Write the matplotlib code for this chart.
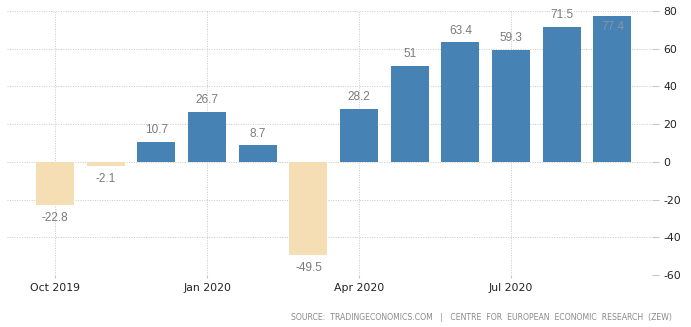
import numpy as np
import matplotlib.pyplot as plt

plt.rcParams["axes.unicode_minus"] = False

months = ["Oct 2019", "Nov 2019", "Dec 2019", "Jan 2020", "Feb 2020", "Mar 2020",
          "Apr 2020", "May 2020", "Jun 2020", "Jul 2020", "Aug 2020", "Sep 2020"]
values = [-22.8, -2.1, 10.7, 26.7, 8.7, -49.5, 28.2, 51, 63.4, 59.3, 71.5, 77.4]
tick_months = ["Oct 2019", "Jan 2020", "Apr 2020", "Jul 2020"]
yticks = [-60, -40, -20, 0, 20, 40, 60, 80]
source = "SOURCE:  TRADINGECONOMICS.COM   |   CENTRE  FOR  EUROPEAN  ECONOMIC  RESEARCH  (ZEW)"

pos_color = "#4682b4"
neg_color = "#f5deb3"
grid_color = "#c8c8c8"
label_color = "#7b7b7b"
inner_color = "#8495a6"

fig = plt.figure(figsize=(6.91, 3.27), dpi=100)
ax = fig.add_axes([7 / 691, 1 - 275 / 327, 645 / 691, 264 / 327])

x = np.arange(len(months))
colors = [pos_color if v >= 0 else neg_color for v in values]
ax.bar(x, values, width=0.75, color=colors, zorder=2)

ymin, ymax = -60, 80
ax.set_ylim(ymin, ymax)
ax.set_xlim(-0.95, 11.78)

for xi, v in zip(x, values):
    label = f"{v:g}"
    if v >= 0:
        if v > ymax - 8:
            # no room above the bar: write the value inside, near the top
            ax.annotate(label, (xi, v), xytext=(0, -4), textcoords="offset points",
                        ha="center", va="top", fontsize=8.5, color=inner_color,
                        family="Liberation Sans", zorder=3)
        else:
            ax.annotate(label, (xi, v), xytext=(0, 4), textcoords="offset points",
                        ha="center", va="bottom", fontsize=8.5, color=label_color,
                        family="Liberation Sans", zorder=3)
    else:
        ax.annotate(label, (xi, v), xytext=(0, -5), textcoords="offset points",
                    ha="center", va="top", fontsize=8.5, color=label_color,
                    family="Liberation Sans", zorder=3)

ax.set_xticks([months.index(m) for m in tick_months])
ax.set_xticklabels(tick_months)
ax.set_yticks(yticks)
ax.yaxis.tick_right()

ax.grid(True, linestyle=(0, (1, 1.5)), linewidth=0.7, color=grid_color, zorder=0)
for s in ax.spines.values():
    s.set_visible(False)
ax.tick_params(axis="x", length=2, color=grid_color, pad=4, labelsize=7.8,
               labelcolor="#222222")
ax.tick_params(axis="y", length=5, color=grid_color, pad=3, labelsize=7.8,
               labelcolor="#222222")

fig.text(672 / 691, 1 - 317 / 327, source, ha="right", va="center",
         fontsize=5.6, color="#8a8a8a")

fig.savefig("out.png", dpi=100)
